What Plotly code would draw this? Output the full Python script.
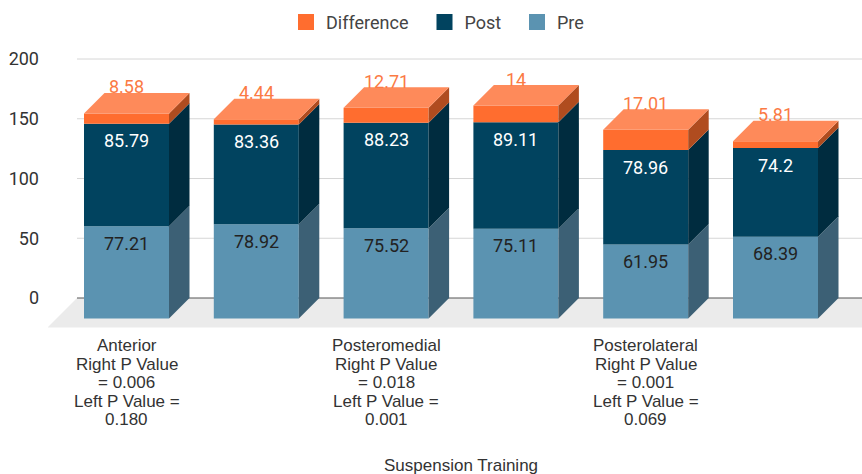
import plotly.graph_objects as go

# ---------------- data ----------------
categories = [
    "Anterior\nRight P Value\n= 0.006\nLeft P Value =\n0.180",
    "",
    "Posteromedial\nRight P Value\n= 0.018\nLeft P Value =\n0.001",
    "",
    "Posterolateral\nRight P Value\n= 0.001\nLeft P Value =\n0.069",
    "",
]
pre = [77.21, 78.92, 75.52, 75.11, 61.95, 68.39]
post = [85.79, 83.36, 88.23, 89.11, 78.96, 74.2]
diff = [8.58, 4.44, 12.71, 14, 17.01, 5.81]
legend_names = ["Difference", "Post", "Pre"]
y_ticks = [0, 50, 100, 150, 200]
x_title = "Suspension Training"

# ---------------- style / geometry ----------------
W, H = 862, 474
ML, MR, MT, MB = 48, 0, 40, 144
PX_PER_Y = 1.195
PX_PER_X = 129.8
ZERO_PX_Y = 298.0
FIRST_BACK_PX_X = 147.0
DEPTH_PX = 20.5
FLOOR_DEPTH_PX = 29.5
GRID_LEFT_PX = 77.0
BAR_W_PX = 85.0
LEGEND_SWATCH_PX = [305, 443.5, 536]

C_PRE, C_PRE_SIDE = "#5b93b1", "#3c6075"
C_POST, C_POST_SIDE = "#01435f", "#002c3f"
C_DIFF, C_DIFF_SIDE, C_DIFF_TOP = "#ff6d2f", "#b04c1f", "#fe8a5a"
C_LABEL_DIFF = "#fb7a44"
FONT_NUM = "Roboto"
FONT_CAT = "Liberation Sans, Arial"

x_range = [-(FIRST_BACK_PX_X - ML) / PX_PER_X, (W - MR - FIRST_BACK_PX_X) / PX_PER_X]
y_range = [-(H - MB - ZERO_PX_Y) / PX_PER_Y, (ZERO_PX_Y - MT) / PX_PER_Y]
dx = DEPTH_PX / PX_PER_X
dy = DEPTH_PX / PX_PER_Y
bw = BAR_W_PX / PX_PER_X
n = len(pre)
xs = [i - dx for i in range(n)]

series = [
    ("Pre", pre, C_PRE, C_PRE_SIDE),
    ("Post", post, C_POST, C_POST_SIDE),
    ("Difference", diff, C_DIFF, C_DIFF_SIDE),
]

fig = go.Figure()
shapes = []
annotations = []

# floor
fdx = FLOOR_DEPTH_PX / PX_PER_X
fdy = FLOOR_DEPTH_PX / PX_PER_Y
gl = (GRID_LEFT_PX - FIRST_BACK_PX_X) / PX_PER_X
gr = x_range[1] + fdx
shapes.append(dict(type="path", xref="x", yref="y", layer="below",
                   path=f"M{gl},0 L{gr},0 L{gr - fdx},{-fdy} L{gl - fdx},{-fdy} Z",
                   fillcolor="#ebebeb", line=dict(width=0)))
# gridlines (back wall)
for t in y_ticks:
    shapes.append(dict(type="line", xref="x", yref="y", layer="below",
                       x0=gl, x1=x_range[1], y0=t, y1=t,
                       line=dict(color="#555555" if t == 0 else "#d6d6d6", width=1)))

cum = [0.0] * n
for name, vals, col, side in series:
    bases = [c - dy for c in cum]
    fig.add_trace(go.Bar(x=xs, y=vals, base=bases, width=bw, name=name,
                         marker=dict(color=col, line=dict(width=0)),
                         showlegend=False, hoverinfo="skip"))
    for i in range(n):
        yb = bases[i]
        yt = bases[i] + vals[i]
        xr = xs[i] + bw / 2
        shapes.append(dict(type="path", xref="x", yref="y", layer="above",
                           path=f"M{xr},{yb} L{xr + dx},{yb + dy} L{xr + dx},{yt + dy} L{xr},{yt} Z",
                           fillcolor=side, line=dict(width=0)))
    cum = [c + v for c, v in zip(cum, vals)]

# top faces
for i in range(n):
    yt = cum[i] - dy
    xl = xs[i] - bw / 2
    xr = xs[i] + bw / 2
    shapes.append(dict(type="path", xref="x", yref="y", layer="above",
                       path=f"M{xl},{yt} L{xr},{yt} L{xr + dx},{yt + dy} L{xl + dx},{yt + dy} Z",
                       fillcolor=C_DIFF_TOP, line=dict(width=0)))

# data labels
for i in range(n):
    top_pre = pre[i] - dy
    top_post = pre[i] + post[i] - dy
    annotations.append(dict(x=xs[i], y=top_pre, xref="x", yref="y", text=f"{pre[i]:g}",
                            showarrow=False, yanchor="middle", yshift=-17,
                            font=dict(family=FONT_NUM, size=18, color="#222222")))
    annotations.append(dict(x=xs[i], y=top_post, xref="x", yref="y", text=f"{post[i]:g}",
                            showarrow=False, yanchor="middle", yshift=-17,
                            font=dict(family=FONT_NUM, size=18, color="#ffffff")))
    annotations.append(dict(x=xs[i], y=cum[i], xref="x", yref="y", text=f"{diff[i]:g}",
                            showarrow=False, yanchor="middle", yshift=6,
                            font=dict(family=FONT_NUM, size=18, color=C_LABEL_DIFF)))

# category labels (multi-line, tight spacing)
for i, cat in enumerate(categories):
    if not cat:
        continue
    for k, line in enumerate(cat.split("\n")):
        annotations.append(dict(x=xs[i], y=0, xref="x", yref="paper", text=line,
                                showarrow=False, yanchor="middle", yshift=-(15.7 + 18.5 * k),
                                font=dict(family=FONT_CAT, size=17, color="#333333")))

annotations.append(dict(x=(460.5 - ML) / (W - ML - MR), y=0, xref="paper", yref="paper",
                        text=x_title, showarrow=False, yanchor="middle", yshift=-135,
                        font=dict(family=FONT_CAT, size=17, color="#333333")))

# legend entries (one legend per entry so each can be placed)
leg_colors = {"Difference": C_DIFF, "Post": C_POST, "Pre": C_PRE}
legend_ids = ["legend", "legend2", "legend3"]
legend_layout = {}
for name, lid, sx in zip(legend_names, legend_ids, LEGEND_SWATCH_PX):
    fig.add_trace(go.Scatter(x=[None], y=[None], mode="markers", name=name, legend=lid,
                             marker=dict(symbol="square", size=16, color=leg_colors[name]),
                             showlegend=True, hoverinfo="skip"))
    legend_layout[lid] = dict(orientation="h", xref="container", yref="container",
                              x=(sx - 19) / W, xanchor="left", y=0.992, yanchor="top",
                              bgcolor="rgba(0,0,0,0)", borderwidth=0,
                              font=dict(family=FONT_NUM, size=18, color="#444444"),
                              itemclick=False, itemdoubleclick=False)

fig.update_layout(
    template="none",
    width=W, height=H,
    margin=dict(l=ML, r=MR, t=MT, b=MB, autoexpand=False),
    paper_bgcolor="white", plot_bgcolor="white",
    barmode="overlay",
    shapes=shapes, annotations=annotations,
    showlegend=True,
    hovermode=False,
    xaxis=dict(range=x_range, showticklabels=False, showgrid=False, zeroline=False,
               showline=False, fixedrange=True, automargin=False),
    yaxis=dict(range=y_range, tickvals=y_ticks, showgrid=False, zeroline=False,
               showline=False, ticks="", ticklabelstandoff=8, automargin=False,
               fixedrange=True,
               tickfont=dict(family=FONT_NUM, size=18, color="#333333")),
    **legend_layout,
)

fig.write_html("out.html", config={"displayModeBar": False},
               post_script="document.body.style.margin='0';")
